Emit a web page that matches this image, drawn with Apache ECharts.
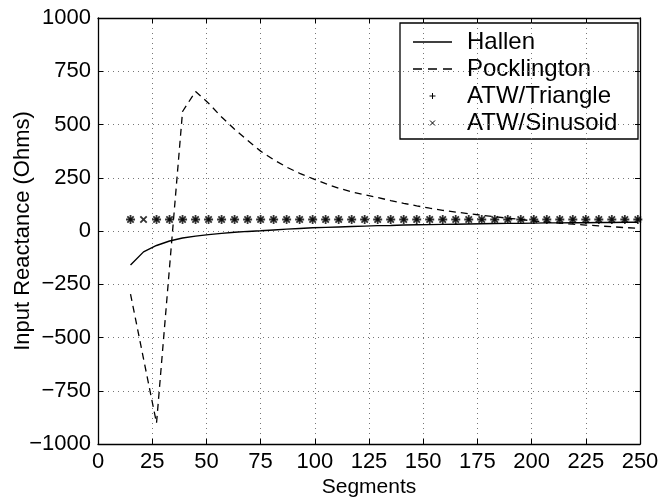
<!DOCTYPE html>
<html>
<head>
<meta charset="utf-8">
<script src="https://cdn.jsdelivr.net/npm/echarts@6/dist/echarts.min.js"></script>
<style>
  html, body { margin: 0; padding: 0; background: #fff; }
  #chart { width: 663px; height: 501px; }
</style>
</head>
<body>
<div id="chart"></div>
<script>
// Number of segments used for each solution
const segments = [15, 21, 27, 33, 39, 45, 51, 57, 63, 69, 75, 81, 87, 93, 99, 105, 111, 117, 123, 129,
  135, 141, 147, 153, 159, 165, 171, 177, 183, 189, 195, 201, 207, 213, 219, 225, 231, 237, 243, 249];

// Input reactance (Ohms)
const hallen = [-160, -98, -68, -47, -33, -24, -17, -11, -6, -2, 1, 5, 9, 12, 15, 17, 19, 21, 23, 25,
  26, 28, 29, 30, 31, 32, 33, 34, 35, 36, 36, 37, 38, 38, 39, 39, 40, 40, 41, 41];
const pocklington = [-296, -600, -902, -170, 561, 655, 600, 535, 478, 425, 375, 335, 300, 271, 246, 222, 201, 184, 170, 157,
  143, 130, 118, 107, 97, 89, 81, 74, 67, 60, 54, 47, 42, 37, 32, 28, 24, 20, 16, 13];
const atwTriangle = [54, null, 54, 54, 54, 54, 54, 54, 54, 54, 54, 54, 54, 54, 54, 54, 54, 54, 54, 54,
  54, 54, 54, 54, 54, 54, 54, 54, 54, 54, 54, 54, 54, 54, 54, 54, 54, 54, 54, 54];
const atwSinusoid = [54, 54, 54, 54, 54, 54, 54, 54, 54, 54, 54, 54, 54, 54, 54, 54, 54, 54, 54, 54,
  54, 54, 54, 54, 54, 54, 54, 54, 54, 54, 54, 54, 54, 54, 54, 54, 54, 54, 54, 54];

const seriesNames = ['Hallen', 'Pocklington', 'ATW/Triangle', 'ATW/Sinusoid'];

const xTicks = { min: 0, max: 250, interval: 25 };
const yTicks = { min: -1000, max: 1000, interval: 250 };

const pairs = (ys) => segments.map((x, i) => [x, ys[i]]).filter(p => p[1] !== null);
const fmt = (v) => String(v).replace('-', '\u2212');

const FONT = 'Liberation Sans, Arial, Helvetica, sans-serif';
const PLUS = 'path://M-1,-0.2L-0.2,-0.2L-0.2,-1L0.2,-1L0.2,-0.2L1,-0.2L1,0.2L0.2,0.2L0.2,1L-0.2,1L-0.2,0.2L-1,0.2Z';

const gridLine = { show: true, lineStyle: { color: '#777', type: [1, 4], width: 1 } };
const axisLine = { show: true, onZero: false, lineStyle: { color: '#000', width: 1.3 } };
const tick = { show: true, inside: true, length: 5, lineStyle: { color: '#000', width: 1 } };

const chart = echarts.init(document.getElementById('chart'), null, { renderer: 'canvas' });

// Boxed legend drawn with graphic elements
const LEG = { left: 400, top: 23, width: 238, height: 116, rowTop: 42, rowGap: 27, keyX: 413, keyW: 39, textX: 467 };
const legendChildren = [{
  type: 'rect', shape: { x: LEG.left, y: LEG.top, width: LEG.width, height: LEG.height },
  style: { fill: '#fff', stroke: '#000', lineWidth: 1.3 }
}];
seriesNames.forEach((name, i) => {
  const y = LEG.rowTop + i * LEG.rowGap;
  const cx = LEG.keyX + LEG.keyW / 2;
  if (i === 0) {
    legendChildren.push({ type: 'line', shape: { x1: LEG.keyX, y1: y, x2: LEG.keyX + LEG.keyW, y2: y }, style: { stroke: '#000', lineWidth: 1.3 } });
  } else if (i === 1) {
    legendChildren.push({ type: 'line', shape: { x1: LEG.keyX, y1: y, x2: LEG.keyX + LEG.keyW, y2: y }, style: { stroke: '#000', lineWidth: 1.3, lineDash: [9, 6] } });
  } else if (i === 2) {
    legendChildren.push({ type: 'line', shape: { x1: cx - 3, y1: y, x2: cx + 3, y2: y }, style: { stroke: '#000', lineWidth: 1 } });
    legendChildren.push({ type: 'line', shape: { x1: cx, y1: y - 3, x2: cx, y2: y + 3 }, style: { stroke: '#000', lineWidth: 1 } });
  } else {
    legendChildren.push({ type: 'line', shape: { x1: cx - 2.5, y1: y - 2.5, x2: cx + 2.5, y2: y + 2.5 }, style: { stroke: '#000', lineWidth: 1 } });
    legendChildren.push({ type: 'line', shape: { x1: cx - 2.5, y1: y + 2.5, x2: cx + 2.5, y2: y - 2.5 }, style: { stroke: '#000', lineWidth: 1 } });
  }
  legendChildren.push({
    type: 'text', x: LEG.textX, y: y,
    style: { text: name, font: '24px ' + FONT, fill: '#000', textAlign: 'left', textVerticalAlign: 'middle' }
  });
});

chart.setOption({
  backgroundColor: '#fff',
  animation: false,
  grid: { left: 98, right: 23, top: 18, bottom: 57, containLabel: false, outerBoundsMode: 'none' },
  xAxis: [
    {
      type: 'value', position: 'bottom', ...xTicks,
      name: 'Segments', nameLocation: 'middle', nameGap: 33, nameMoveOverlap: false,
      nameTextStyle: { fontFamily: FONT, fontSize: 21, color: '#000' },
      axisLine, axisTick: tick, splitLine: gridLine,
      axisLabel: { fontFamily: FONT, fontSize: 22, color: '#000', margin: 7, formatter: fmt }
    },
    {
      type: 'value', position: 'top', ...xTicks,
      axisLine, axisTick: tick, splitLine: { show: false }, axisLabel: { show: false }
    }
  ],
  yAxis: [
    {
      type: 'value', position: 'left', ...yTicks,
      name: 'Input Reactance (Ohms)', nameLocation: 'middle', nameGap: 64, nameMoveOverlap: false,
      nameTextStyle: { fontFamily: FONT, fontSize: 22, color: '#000' },
      axisLine, axisTick: tick, splitLine: gridLine,
      axisLabel: { fontFamily: FONT, fontSize: 22, color: '#000', margin: 7, formatter: fmt }
    },
    {
      type: 'value', position: 'right', ...yTicks,
      axisLine, axisTick: tick, splitLine: { show: false }, axisLabel: { show: false }
    }
  ],
  graphic: { elements: [{ type: 'group', children: legendChildren, z: 100 }] },
  series: [
    {
      name: seriesNames[0], type: 'line', data: pairs(hallen), showSymbol: false, symbol: 'none',
      lineStyle: { color: '#000', width: 1.4 }, itemStyle: { color: '#000' }
    },
    {
      name: seriesNames[1], type: 'line', data: pairs(pocklington), showSymbol: false, symbol: 'none',
      lineStyle: { color: '#000', width: 1.3, type: [7, 5] }, itemStyle: { color: '#000' }
    },
    {
      name: seriesNames[2], type: 'scatter', data: pairs(atwTriangle),
      symbol: PLUS, symbolSize: 9, itemStyle: { color: '#000' }
    },
    {
      name: seriesNames[3], type: 'scatter', data: pairs(atwSinusoid),
      symbol: PLUS, symbolSize: 9, symbolRotate: 45, itemStyle: { color: '#000' }
    }
  ]
});
</script>
</body>
</html>
